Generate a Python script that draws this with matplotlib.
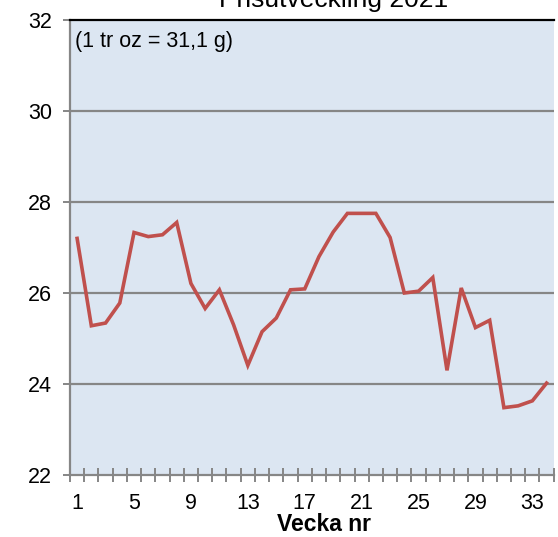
import matplotlib
matplotlib.use("Agg")
import matplotlib.pyplot as plt
from matplotlib.ticker import FixedLocator

weeks = list(range(1, 35))
prices = [27.20, 25.28, 25.34, 25.78, 27.33, 27.24, 27.28, 27.55, 26.21, 25.66,
          26.07, 25.30, 24.41, 25.15, 25.45, 26.07, 26.09, 26.80, 27.34, 27.75,
          27.75, 27.75, 27.22, 26.00, 26.04, 26.34, 24.30, 26.11, 25.24, 25.40,
          23.48, 23.52, 23.63, 24.02]
x_labels = [1, 5, 9, 13, 17, 21, 25, 29, 33]
y_ticks = [22, 24, 26, 28, 30, 32]

W, H = 558, 537
plt.rcParams['font.family'] = ['Liberation Sans', 'DejaVu Sans']
fig = plt.figure(figsize=(W / 100, H / 100), dpi=100)
fig.patch.set_facecolor('white')

ax = fig.add_axes([70 / W, 62 / H, 483.7 / W, 455 / H])
ax.set_facecolor('#DCE6F2')
ax.set_xlim(0.5, 34.5)
ax.set_ylim(22, 32)

grid_col = '#868686'
for y in y_ticks[1:-1]:
    ax.axhline(y, color=grid_col, lw=1.6, zorder=1)

ax.plot(weeks, prices, color='#C0504D', lw=2.6, zorder=3, solid_joinstyle='miter')

ax.spines['right'].set_visible(False)
ax.spines['top'].set_color('black')
ax.spines['top'].set_linewidth(1.6)
ax.spines['left'].set_color(grid_col)
ax.spines['left'].set_linewidth(1.6)
ax.spines['bottom'].set_color(grid_col)
ax.spines['bottom'].set_linewidth(1.6)

ax.set_yticks(y_ticks)
ax.set_yticklabels([str(v) for v in y_ticks])
ax.tick_params(axis='y', direction='out', length=5, width=1.4, color=grid_col,
               labelsize=15.5, pad=8)

ax.xaxis.set_major_locator(FixedLocator(x_labels))
ax.set_xticklabels([str(v) for v in x_labels])
ax.xaxis.set_minor_locator(FixedLocator([w + 0.5 for w in range(0, 35)]))
ax.tick_params(axis='x', which='major', length=0, labelsize=15.5, pad=13)
ax.tick_params(axis='x', which='minor', direction='inout', length=10, width=1.4,
               color=grid_col)

fig.text(75 / W, 1 - 47 / H, '(1 tr oz = 31,1 g)', fontsize=15.5, ha='left',
         va='baseline')
fig.text(334 / W, 1 - 7 / H, 'Prisutveckling 2021', fontsize=19, ha='center',
         va='baseline')
fig.text(324 / W, 1 - 531 / H, 'Vecka nr', fontsize=16.5, fontweight='bold',
         ha='center', va='baseline')

fig.savefig('out.png', dpi=100, facecolor='white')
